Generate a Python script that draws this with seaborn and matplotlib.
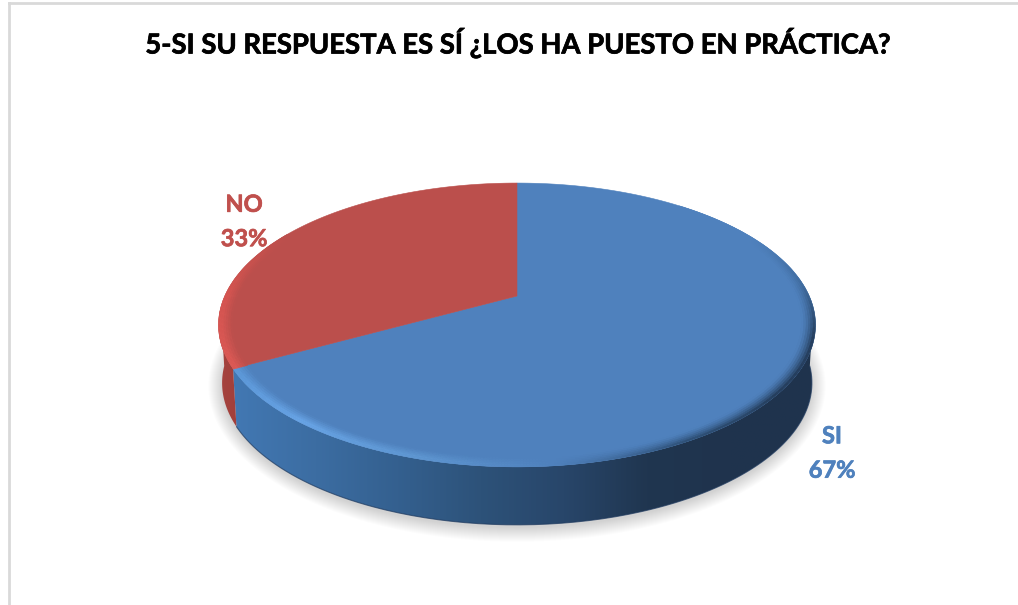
import numpy as np
import matplotlib
matplotlib.use("Agg")
import matplotlib.pyplot as plt
import matplotlib.patheffects as pe
from matplotlib.collections import PolyCollection
from matplotlib.colors import LinearSegmentedColormap, to_rgb
from matplotlib.patches import Polygon
import seaborn as sns

# -------------------------------
# Data
categories = ["SI", "NO"]
values = [67, 33]
title = "5-SI SU RESPUESTA ES SÍ ¿LOS HA PUESTO EN PRÁCTICA?"

# -------------------------------
# Style
surface_colors = ["#4f81bd", "#bb4f4c"]
label_colors = ["#4f81bd", "#c0504d"]
wall_blue = ["#4278b3", "#3c6da2", "#34608f", "#2d5279", "#28466a", "#203650", "#1f334d", "#1f344e"]
wall_red = ["#a5443f", "#a23f3b"]
label_pos = {"NO": (244, 221.5), "SI": (832, 453)}

sns.set_theme(style="white")
plt.rcParams["font.family"] = ["Lato", "DejaVu Sans"]

# pie geometry in pixels, tilted disc seen in perspective
cx, cy = 517, 296
persp = 0.204
ky, kx = 136, 292.2
wall_h = 58
heft = [pe.withStroke(linewidth=0.5, foreground="black")]


def project(phi, r=1.0, drop=0.0):
    # phi is clockwise from 12 o'clock, in degrees
    a = np.radians(phi)
    x = r * np.sin(a)
    t = r * np.cos(a)
    w = 1 + persp * t
    return np.column_stack([cx + kx * x / w * (1 - 0.012 * (drop > 0)),
                            cy - ky * t / w + drop])


def ramp(stops, pos):
    # pos 0-1 along a list of colour stops
    rgb = np.array([to_rgb(c) for c in stops])
    grid = np.linspace(0, 1, len(stops))
    return np.column_stack([np.interp(pos, grid, rgb[:, i]) for i in range(3)])


def wall(phi0, phi1, stops, x0, x1):
    # gradient image clipped to the wall outline of one slice
    arc = np.linspace(phi0, phi1, 200)
    outline = np.vstack([project(arc), project(arc[::-1], 1.0, wall_h)])
    clip = Polygon(outline, closed=True, transform=ax.transData, fc="none", ec="none")
    ax.add_patch(clip)
    cmap = LinearSegmentedColormap.from_list("wall", stops)
    im = ax.imshow(np.linspace(0, 1, 256)[None, :], cmap=cmap, extent=[x0, x1, 560, 300],
                   aspect="auto", zorder=2, interpolation="bilinear")
    im.set_clip_path(clip)
    low = project(arc, 1.0, wall_h)
    return low


fig = plt.figure(figsize=(10.18, 6.05), dpi=100)
ax = fig.add_axes([9 / 1018, 0, 1 - 9 / 1018, 1 - 2.5 / 605])
ax.set_xticks([])
ax.set_yticks([])
sns.despine(ax=ax, top=False, right=True, left=False, bottom=True)
for side in ["left", "top"]:
    ax.spines[side].set_color("#d9d9d9")
    ax.spines[side].set_linewidth(2)

# slice angles from the values: SI starts at 12 o'clock going clockwise
shares = np.array(values) / sum(values) * 360
edges = np.concatenate([[0], np.cumsum(shares)])

# soft shadow under the pie
ring = np.linspace(0, 360, 361)
for grow in np.linspace(0, 14, 15):
    base = project(ring, 1.0, wall_h)
    sx = (base[:, 0] - cx) * (1 + grow / 300) + cx
    sy = (base[:, 1] - 325 - wall_h) * (1 + grow / 143) + 325 + wall_h + 3
    ax.fill(sx, sy, color="black", alpha=0.012, lw=0, zorder=1)

# side wall, split by slice
low = wall(95, edges[1], wall_blue, 232, 813)
wall(edges[1], 265, wall_red, 219, 237)
ax.plot(low[:, 0], low[:, 1], color="#1f3a5f", lw=0.8, alpha=0.7, zorder=2.5)

# top surface, one wedge per category
for i, name in enumerate(categories):
    arc = project(np.linspace(edges[i], edges[i + 1], 300))
    ax.fill(np.r_[cx, arc[:, 0]], np.r_[cy, arc[:, 1]], color=surface_colors[i], lw=0.4, zorder=3)

# bevel along the rim
rim_angles = np.linspace(40, 300, 521)
rim_blue = ["#4f81bd", "#4f81bd", "#3f6a9c", "#1f344e", "#1f344e", "#2a4a6e", "#4f81bd", "#5f97d2", "#68a4e6", "#5c98d8"]
rim_red = ["#dc5a56", "#d65551", "#bb4f4c"]
radii = np.linspace(0.955, 1.0, 7)
quads = []
cols = []
for r0, r1 in zip(radii[:-1], radii[1:]):
    blend = ((r0 + r1) / 2 - radii[0]) / (radii[-1] - radii[0])
    for p0, p1 in zip(rim_angles[:-1], rim_angles[1:]):
        pair = np.array([p0, p1])
        inner = project(pair, r0)
        outer = project(pair, r1)
        mid = (p0 + p1) / 2
        if mid < edges[1]:
            edge = ramp(rim_blue, np.array([(mid - 40) / (edges[1] - 40)]))[0]
            face = np.array(to_rgb(surface_colors[0]))
            mix = blend ** 1.5 if mid < 175 else min(1, blend * 1.3)
        else:
            edge = ramp(rim_red, np.array([(mid - edges[1]) / (300 - edges[1])]))[0]
            face = np.array(to_rgb(surface_colors[1]))
            mix = min(1, blend * 1.3)
        quads.append([inner[0], inner[1], outer[1], outer[0]])
        cols.append(face + (edge - face) * mix)
ax.add_collection(PolyCollection(quads, facecolors=cols, edgecolors=cols, linewidths=0.3, zorder=4))

# labels
for i, name in enumerate(categories):
    lx, ly = label_pos[name]
    t = ax.text(lx, ly, f"{name}\n{values[i]}%", color=label_colors[i], fontsize=17,
                fontweight="bold", ha="center", va="center", linespacing=1.6, zorder=5)
    t.set_path_effects([pe.withStroke(linewidth=0.5, foreground=label_colors[i])])

ax.text(517, 43, title, color="black", fontsize=19.76, fontweight="bold", ha="center", va="center",
        zorder=5, path_effects=heft)

ax.set_xlim(9, 1018)
ax.set_ylim(605, 2.5)

fig.savefig("out.png", dpi=100)
